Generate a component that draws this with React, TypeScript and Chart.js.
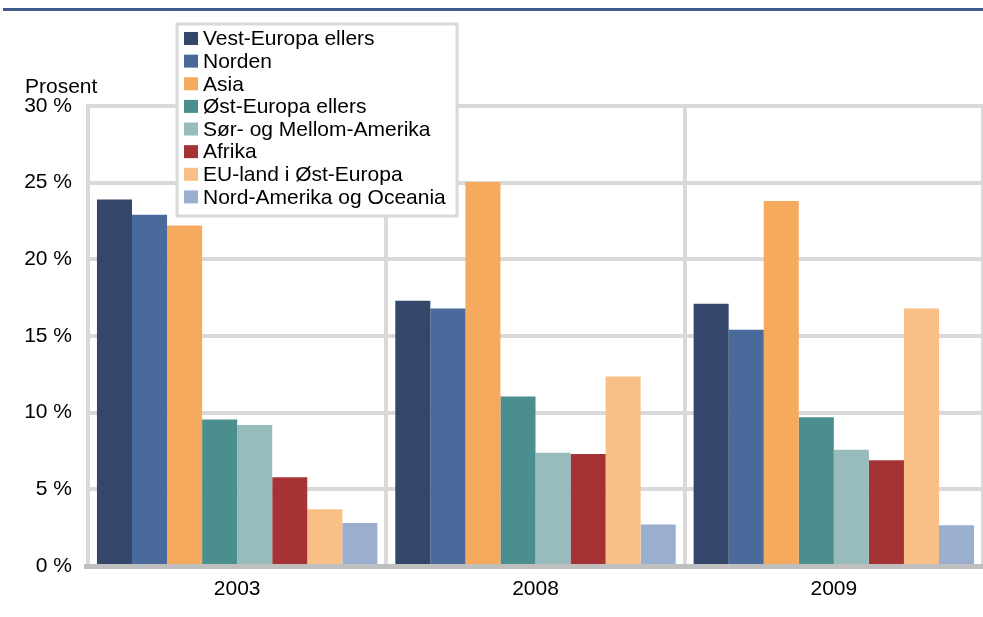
import React, { useEffect, useRef } from "react";
import { Chart, registerables } from "chart.js";

Chart.register(...registerables);

const years = ["2003", "2008", "2009"];
const seriesNames = [
  "Vest-Europa ellers",
  "Norden",
  "Asia",
  "Øst-Europa ellers",
  "Sør- og Mellom-Amerika",
  "Afrika",
  "EU-land i Øst-Europa",
  "Nord-Amerika og Oceania",
];
const vestEuropa = [23.9, 17.3, 17.1];
const norden = [22.9, 16.8, 15.4];
const asia = [22.2, 25.05, 23.8];
const ostEuropa = [9.55, 11.05, 9.7];
const sorAmerika = [9.2, 7.38, 7.58];
const afrika = [5.78, 7.3, 6.9];
const euOst = [3.7, 12.36, 16.8];
const nordAmerika = [2.8, 2.7, 2.66];
const seriesColors = [
  "#344669",
  "#4a6a9c",
  "#f6aa5e",
  "#4a8f8d",
  "#98bcbc",
  "#a53335",
  "#f9bf86",
  "#9aaed0",
];
const yTicks = [0, 5, 10, 15, 20, 25, 30];
const yTitle = "Prosent";

const FONT = "'Liberation Sans', Arial, sans-serif";

const extrasPlugin = {
  id: "extras",
  afterDraw(chart: any) {
    const ctx = chart.ctx;
    ctx.save();
    // top rule
    ctx.fillStyle = "#3e5b8c";
    ctx.fillRect(3, 8, 980, 3);
    // bottom axis extension to the left of the y axis
    ctx.fillStyle = "#bfbfbf";
    ctx.fillRect(84, chart.chartArea.bottom - 2, 6, 5);
    // y title
    ctx.fillStyle = "#000";
    ctx.font = `21px ${FONT}`;
    ctx.textAlign = "left";
    ctx.textBaseline = "alphabetic";
    ctx.fillText(yTitle, 25, 93);
    // legend
    const bx = 177, by = 24, bw = 280, bh = 192;
    ctx.fillStyle = "#ffffff";
    ctx.fillRect(bx, by, bw, bh);
    ctx.strokeStyle = "#d9d9d9";
    ctx.lineWidth = 3;
    ctx.strokeRect(bx, by, bw, bh);
    ctx.font = `21px ${FONT}`;
    ctx.textBaseline = "middle";
    chart.data.datasets.forEach((ds: any, i: number) => {
      const cy = 38.5 + i * 22.63;
      ctx.fillStyle = ds.backgroundColor;
      ctx.fillRect(184, cy - 6.5, 14, 13);
      ctx.fillStyle = "#000";
      ctx.fillText(ds.label, 203, cy + 1);
    });
    ctx.restore();
  },
};

export default function App() {
  const canvasRef = useRef<HTMLCanvasElement | null>(null);

  useEffect(() => {
    if (!canvasRef.current) return;
    const seriesData = [vestEuropa, norden, asia, ostEuropa, sorAmerika, afrika, euOst, nordAmerika];
    const chart = new Chart(canvasRef.current, {
      type: "bar",
      data: {
        labels: years,
        datasets: seriesNames.map((name, i) => ({
          label: name,
          data: seriesData[i],
          backgroundColor: seriesColors[i],
          borderWidth: 0,
          categoryPercentage: 0.94,
          barPercentage: 1,
        })),
      },
      options: {
        responsive: false,
        animation: false,
        layout: { padding: { top: 106, right: 0, left: 0, bottom: 0 } },
        plugins: {
          legend: { display: false },
          tooltip: { enabled: false },
          title: { display: false },
        },
        scales: {
          x: {
            grid: {
              display: true,
              offset: true,
              color: "#d9d9d9",
              lineWidth: 4,
              drawTicks: false,
            },
            border: { display: true, color: "#bfbfbf", width: 5 },
            ticks: {
              color: "#000",
              font: { family: FONT, size: 21 },
              padding: 11,
            },
            afterFit(scale: any) {
              scale.height = 51;
            },
          },
          y: {
            min: 0,
            max: 30,
            afterBuildTicks(scale: any) {
              scale.ticks = yTicks.map((v) => ({ value: v }));
            },
            grid: {
              color: "#d9d9d9",
              lineWidth: 4,
              drawTicks: false,
            },
            border: { display: true, color: "#d9d9d9", width: 4 },
            ticks: {
              color: "#000",
              font: { family: FONT, size: 21 },
              padding: 16,
              callback: (v: any) => `${v} %`,
            },
            afterFit(scale: any) {
              scale.width = 88;
            },
          },
        },
      },
      plugins: [extrasPlugin],
    });
    return () => chart.destroy();
  }, []);

  return (
    <div style={{ position: "absolute", left: 0, top: 0, width: 983, height: 617, background: "#fff" }}>
      <canvas ref={canvasRef} width={983} height={617} style={{ display: "block" }} />
    </div>
  );
}
